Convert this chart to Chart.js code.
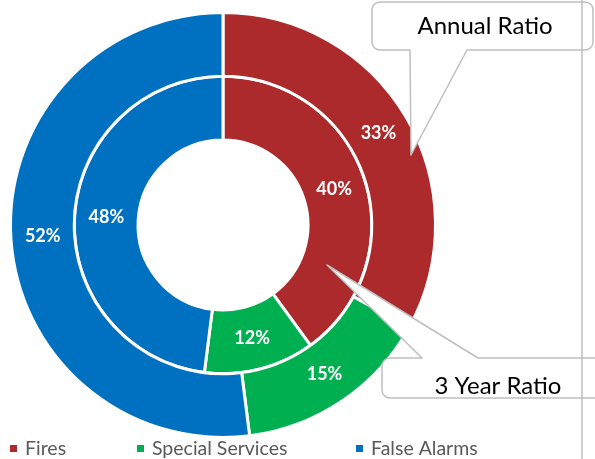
<!DOCTYPE html>
<html>
<head>
<meta charset="utf-8">
<script src="https://cdn.jsdelivr.net/npm/chart.js@4.4.1/dist/chart.umd.min.js"></script>
<style>
    html, body { margin: 0; padding: 0; background: #fff; }
    #wrap { position: relative; width: 595px; height: 459px; }
</style>
</head>
<body>
<div id="wrap"><canvas id="ratioChart" width="595" height="459"></canvas></div>
<script>
// Categories and series (outer ring = annual, inner ring = 3 year)
const categories = ['Fires', 'Special Services', 'False Alarms'];
const annualRatio = [33, 15, 52];
const threeYearRatio = [40, 12, 48];
const sliceColors = ['#AC2A2C', '#00B050', '#0070C0'];

// Callout boxes with leader pointers
const calloutPlugin = {
    id: 'callouts',
    afterDraw(chart) {
        const c = chart.ctx;
        c.save();
        c.strokeStyle = '#BFBFBF';
        c.lineWidth = 1.5;
        c.lineJoin = 'round';

        // Annual Ratio box (pointer from bottom edge)
        drawCallout(c, 372, 2, 221, 48, 8, 'bottom', 410, 467, 411, 155);
        // 3 Year Ratio box (pointer from top edge)
        drawCallout(c, 382, 358, 230, 40, 8, 'top', 422, 478, 327, 265);

        // vertical guide line on the right
        c.beginPath();
        c.moveTo(582, 0);
        c.lineTo(582, 459);
        c.stroke();

        c.fillStyle = '#000';
        c.font = '24px Lato';
        c.textAlign = 'center';
        c.textBaseline = 'middle';
        c.fillText('Annual Ratio', 485, 26);
        c.fillText('3 Year Ratio', 498, 386);
        c.restore();
    }
};

function drawCallout(c, x, y, w, h, r, side, p1, p2, tx, ty) {
    c.beginPath();
    if (side === 'bottom') {
        c.moveTo(x + r, y);
        c.lineTo(x + w - r, y);
        c.arcTo(x + w, y, x + w, y + r, r);
        c.lineTo(x + w, y + h - r);
        c.arcTo(x + w, y + h, x + w - r, y + h, r);
        c.lineTo(p2, y + h);
        c.lineTo(tx, ty);
        c.lineTo(p1, y + h);
        c.lineTo(x + r, y + h);
        c.arcTo(x, y + h, x, y + h - r, r);
        c.lineTo(x, y + r);
        c.arcTo(x, y, x + r, y, r);
    } else {
        c.moveTo(x + r, y);
        c.lineTo(p1, y);
        c.lineTo(tx, ty);
        c.lineTo(p2, y);
        c.lineTo(x + w - r, y);
        c.arcTo(x + w, y, x + w, y + r, r);
        c.lineTo(x + w, y + h - r);
        c.arcTo(x + w, y + h, x + w - r, y + h, r);
        c.lineTo(x + r, y + h);
        c.arcTo(x, y + h, x, y + h - r, r);
        c.lineTo(x, y + r);
        c.arcTo(x, y, x + r, y, r);
    }
    c.closePath();
    c.fillStyle = '#fff';
    c.fill();
    c.stroke();
}

// Percentage labels at each arc's centre
const sliceLabelPlugin = {
    id: 'sliceLabels',
    afterDatasetsDraw(chart) {
        const c = chart.ctx;
        c.save();
        c.fillStyle = '#fff';
        c.font = 'bold 18px Lato';
        c.textAlign = 'center';
        c.textBaseline = 'middle';
        chart.data.datasets.forEach((ds, i) => {
            chart.getDatasetMeta(i).data.forEach((arc, j) => {
                const pos = arc.tooltipPosition();
                c.fillText(ds.data[j] + '%', pos.x, pos.y);
            });
        });
        c.restore();
    }
};

// Legend along the bottom
const bottomLegendPlugin = {
    id: 'bottomLegend',
    afterDraw(chart) {
        const c = chart.ctx;
        const xs = [10, 137, 356];
        c.save();
        c.font = '19.5px Lato';
        c.textBaseline = 'middle';
        categories.forEach((name, i) => {
            c.fillStyle = sliceColors[i];
            c.fillRect(xs[i], 445, 7, 7);
            c.fillStyle = '#595959';
            c.fillText(name, xs[i] + 15, 448.5);
        });
        c.restore();
    }
};

new Chart(document.getElementById('ratioChart'), {
    type: 'doughnut',
    data: {
        labels: categories,
        datasets: [
            {
                label: 'Annual Ratio',
                data: annualRatio,
                backgroundColor: sliceColors,
                borderColor: '#fff',
                borderWidth: 3,
                hoverOffset: 0
            },
            {
                label: '3 Year Ratio',
                data: threeYearRatio,
                backgroundColor: sliceColors,
                borderColor: '#fff',
                borderWidth: 3,
                hoverOffset: 0
            }
        ]
    },
    options: {
        responsive: false,
        animation: false,
        cutout: '40%',
        layout: {
            padding: { left: 9, top: 11, right: 158, bottom: 20 }
        },
        plugins: {
            legend: { display: false },
            tooltip: { enabled: false }
        }
    },
    plugins: [sliceLabelPlugin, calloutPlugin, bottomLegendPlugin]
});
</script>
</body>
</html>
